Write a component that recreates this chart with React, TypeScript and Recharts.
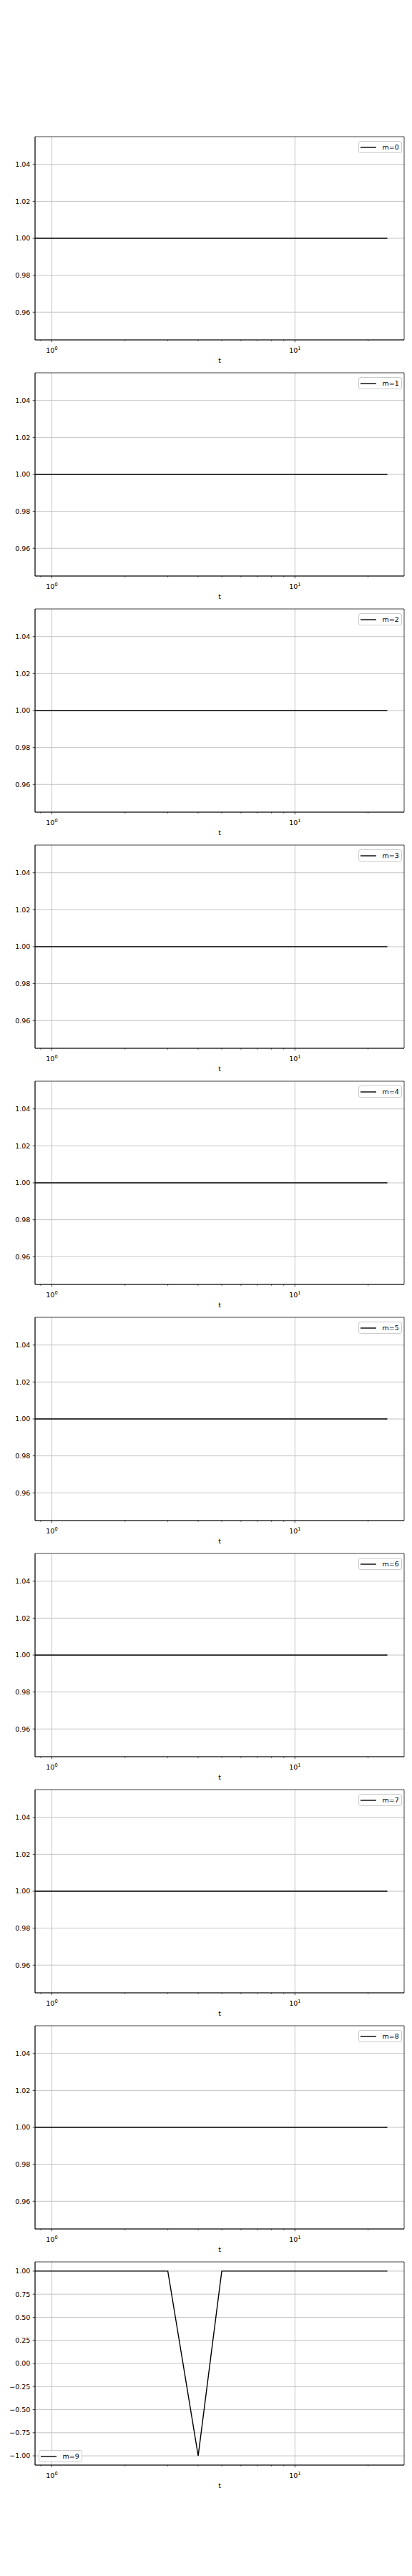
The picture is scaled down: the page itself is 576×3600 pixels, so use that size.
import React from 'react';
import {
  LineChart,
  Line,
  XAxis,
  YAxis,
  CartesianGrid,
  Legend,
  ReferenceArea,
} from 'recharts';

// time steps (t=0 is clipped on the log axis, like matplotlib does)
const ts = [0, 1, 2, 3, 4, 5, 6, 7, 8, 9, 10, 11, 12, 13, 14, 15, 16, 17, 18, 19, 20, 21, 22, 23, 24];

const m0 = [1, 1, 1, 1, 1, 1, 1, 1, 1, 1, 1, 1, 1, 1, 1, 1, 1, 1, 1, 1, 1, 1, 1, 1, 1];
const m1 = [1, 1, 1, 1, 1, 1, 1, 1, 1, 1, 1, 1, 1, 1, 1, 1, 1, 1, 1, 1, 1, 1, 1, 1, 1];
const m2 = [1, 1, 1, 1, 1, 1, 1, 1, 1, 1, 1, 1, 1, 1, 1, 1, 1, 1, 1, 1, 1, 1, 1, 1, 1];
const m3 = [1, 1, 1, 1, 1, 1, 1, 1, 1, 1, 1, 1, 1, 1, 1, 1, 1, 1, 1, 1, 1, 1, 1, 1, 1];
const m4 = [1, 1, 1, 1, 1, 1, 1, 1, 1, 1, 1, 1, 1, 1, 1, 1, 1, 1, 1, 1, 1, 1, 1, 1, 1];
const m5 = [1, 1, 1, 1, 1, 1, 1, 1, 1, 1, 1, 1, 1, 1, 1, 1, 1, 1, 1, 1, 1, 1, 1, 1, 1];
const m6 = [1, 1, 1, 1, 1, 1, 1, 1, 1, 1, 1, 1, 1, 1, 1, 1, 1, 1, 1, 1, 1, 1, 1, 1, 1];
const m7 = [1, 1, 1, 1, 1, 1, 1, 1, 1, 1, 1, 1, 1, 1, 1, 1, 1, 1, 1, 1, 1, 1, 1, 1, 1];
const m8 = [1, 1, 1, 1, 1, 1, 1, 1, 1, 1, 1, 1, 1, 1, 1, 1, 1, 1, 1, 1, 1, 1, 1, 1, 1];
const m9 = [1, 1, 1, 1, -1, 1, 1, 1, 1, 1, 1, 1, 1, 1, 1, 1, 1, 1, 1, 1, 1, 1, 1, 1, 1];

const series = [m0, m1, m2, m3, m4, m5, m6, m7, m8, m9];
const labels = ['m=0', 'm=1', 'm=2', 'm=3', 'm=4', 'm=5', 'm=6', 'm=7', 'm=8', 'm=9'];

const flatTicks = [0.96, 0.98, 1.0, 1.02, 1.04];
const dipTicks = [-1, -0.75, -0.5, -0.25, 0, 0.25, 0.5, 0.75, 1];
const xMajor = [1, 10];
const xMinor = [0.9, 2, 3, 4, 5, 6, 7, 8, 9, 20];
const xExponents: Record<number, string> = { 1: '0', 10: '1' };

const FONT = 'DejaVu Sans, sans-serif';
const LOG_FLOOR = 1e-300;

// matplotlib-like autoscale: 5% margins, log space on x
function logView(vals: number[]): [number, number] {
  const pos = vals.filter((v) => v > 0);
  const lo = Math.log10(Math.min(...pos));
  const hi = Math.log10(Math.max(...pos));
  const pad = 0.05 * (hi - lo);
  return [10 ** (lo - pad), 10 ** (hi + pad)];
}

function linView(vals: number[]): [number, number] {
  let lo = Math.min(...vals);
  let hi = Math.max(...vals);
  if (hi - lo < 1e-12) {
    lo -= 0.05 * Math.abs(lo);
    hi += 0.05 * Math.abs(hi);
  }
  const pad = 0.05 * (hi - lo);
  return [lo - pad, hi + pad];
}

const xDomain = logView(ts);
const allXTicks = [...xMinor, ...xMajor].sort((a, b) => a - b);

function fmtY(v: number) {
  return v.toFixed(2).replace('-', '\u2212');
}

function LogTick(props: any) {
  const { x, y, payload } = props;
  const v = payload.value;
  const major = xMajor.includes(v);
  return (
    <g>
      <line
        x1={x}
        x2={x}
        y1={y}
        y2={y + (major ? 3.3 : 1.9)}
        stroke="#000"
        strokeWidth={major ? 0.75 : 0.6}
      />
      {major && (
        <text x={x} y={y + 17.5} textAnchor="middle" fontSize={9.5} fontFamily={FONT} fill="#000">
          <tspan>10</tspan>
          <tspan dy={-4} fontSize={6.6}>
            {xExponents[v]}
          </tspan>
        </text>
      )}
    </g>
  );
}

function LegendBox({ payload, fallback }: any) {
  const item = payload && payload[0];
  const color = item?.color || '#000';
  const text = item?.value ?? fallback;
  return (
    <div
      style={{
        boxSizing: 'border-box',
        width: 61,
        height: 17,
        border: '1px solid #cccccc',
        borderRadius: 3,
        background: 'rgba(255,255,255,0.8)',
        display: 'flex',
        alignItems: 'center',
        paddingLeft: 2,
        fontFamily: FONT,
      }}
    >
      <svg width={22} height={4} style={{ display: 'block' }}>
        <line x1={0} x2={22} y1={2} y2={2} stroke={color} strokeWidth={1.4} />
      </svg>
      <span style={{ marginLeft: 8.5, fontSize: 9.5, lineHeight: '10px', color: '#000' }}>{text}</span>
    </div>
  );
}

function Panel({ index }: { index: number }) {
  const values = series[index];
  const isDip = index === 9;
  const rows = ts.map((t, i) => ({ x: t > 0 ? t : LOG_FLOOR, y: values[i] }));
  const yDomain = linView(values);
  const yTicks = isDip ? dipTicks : flatTicks;
  const legendPos = isDip ? { left: 54, top: 273 } : { right: 14, top: 16 };

  return (
    <LineChart
      width={576}
      height={330}
      data={rows}
      margin={{ top: 10, right: 11, bottom: 4, left: 0 }}
    >
      <CartesianGrid stroke="#b0b0b0" strokeWidth={0.75} verticalValues={xMajor} horizontalValues={yTicks} />
      <XAxis
        type="number"
        dataKey="x"
        scale="log"
        domain={xDomain}
        allowDataOverflow
        ticks={allXTicks}
        interval={0}
        tick={(p: any) => <LogTick {...p} />}
        tickLine={false}
        tickSize={0}
        tickMargin={0}
        height={32}
        axisLine={{ stroke: '#000', strokeWidth: 0.75 }}
        label={{ value: 't', position: 'insideBottom', offset: 0, fontSize: 9.5, fill: '#000', fontFamily: FONT }}
      />
      <YAxis
        type="number"
        domain={yDomain}
        allowDataOverflow
        ticks={yTicks}
        interval={0}
        tickFormatter={fmtY}
        width={49}
        tickSize={3.3}
        tickMargin={3.3}
        tick={{ fontSize: 9.5, fill: '#000', fontFamily: FONT }}
        tickLine={{ stroke: '#000', strokeWidth: 0.75 }}
        axisLine={{ stroke: '#000', strokeWidth: 0.75 }}
      />
      <ReferenceArea
        x1={xDomain[0]}
        x2={xDomain[1]}
        y1={yDomain[0]}
        y2={yDomain[1]}
        ifOverflow="visible"
        fill="none"
        stroke="#000"
        strokeWidth={0.75}
      />
      <Line
        type="linear"
        dataKey="y"
        name={labels[index]}
        stroke="#000"
        strokeWidth={1.4}
        dot={false}
        activeDot={false}
        isAnimationActive={false}
      />
      <Legend
        layout="vertical"
        align="center"
        verticalAlign="middle"
        wrapperStyle={{ ...legendPos, width: 61 }}
        content={(p: any) => <LegendBox payload={p.payload} fallback={labels[index]} />}
      />
    </LineChart>
  );
}

export default function App() {
  return (
    <div
      style={{
        position: 'absolute',
        left: 0,
        top: 0,
        width: 576,
        height: 3600,
        background: '#fff',
        fontFamily: FONT,
      }}
    >
      {series.map((_, i) => (
        <div key={i} style={{ position: 'absolute', left: 0, top: 181 + 330 * i }}>
          <Panel index={i} />
        </div>
      ))}
    </div>
  );
}
